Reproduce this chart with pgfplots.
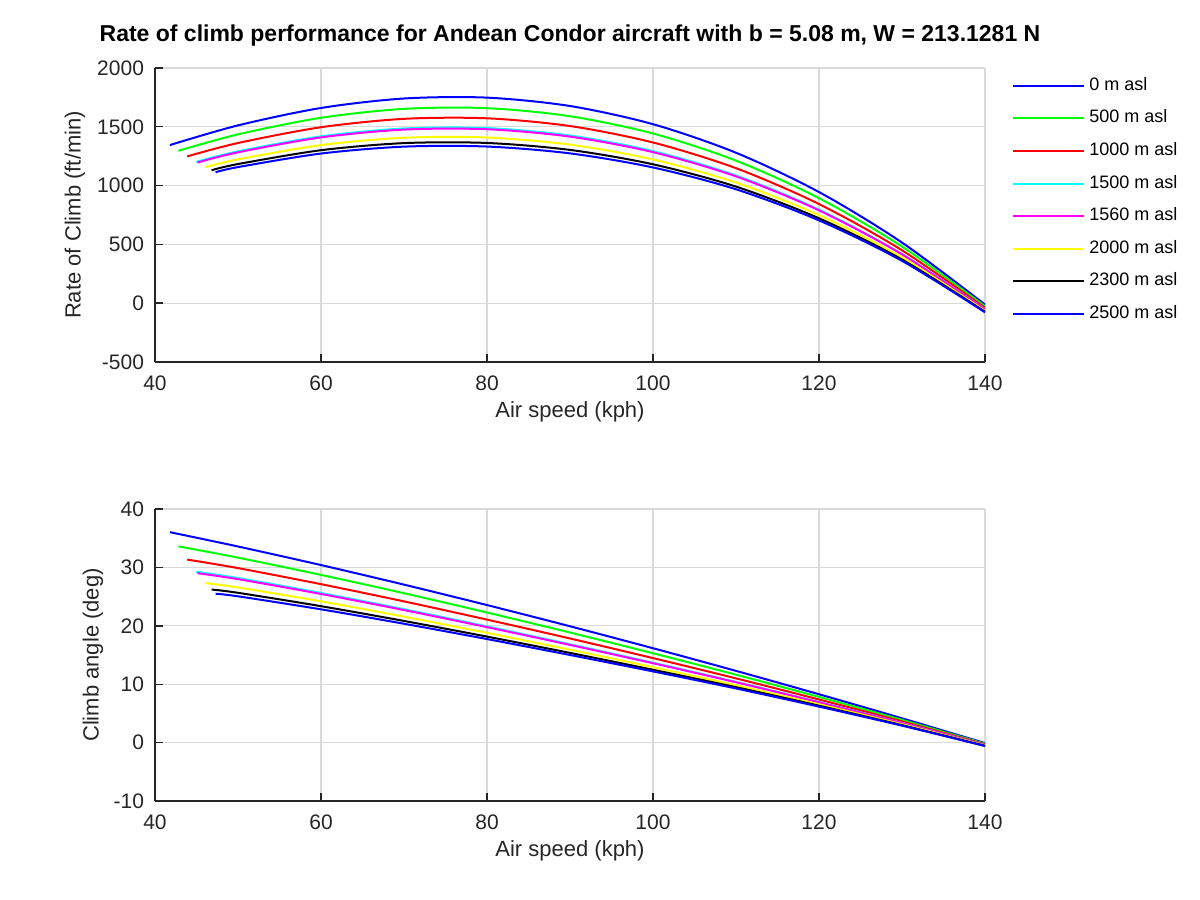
\documentclass[border=0pt]{standalone}
\usepackage{fontspec}
\setmainfont{Liberation Sans}
\usepackage{pgfplots}
\pgfplotsset{compat=1.18}
\definecolor{gridc}{RGB}{217,217,217}
\definecolor{axc}{RGB}{38,38,38}
\definecolor{cblue}{RGB}{0,0,255}
\definecolor{cgreen}{RGB}{0,255,0}
\definecolor{cred}{RGB}{255,0,0}
\definecolor{ccyan}{RGB}{0,255,255}
\definecolor{cmag}{RGB}{255,0,255}
\definecolor{cyel}{RGB}{255,255,0}
\pgfplotsset{
  myax/.style={
    scale only axis, width=415bp,
    xmin=40, xmax=140, xtick={40,60,...,140},
    xticklabels={40,60,80,100,120,140},
    axis lines*=left, tick align=inside, major tick length=4bp,
    grid=major, major grid style={gridc, line width=0.6bp},
    axis line style={axc, line width=0.7bp},
    tick style={axc, line width=0.7bp},
    ticklabel style={font=\fontsize{10.5bp}{12bp}\selectfont, text=axc},
    xticklabel style={yshift=-3.5bp},
    yticklabel style={xshift=-2bp},
    label style={font=\fontsize{11bp}{13bp}\selectfont, text=axc},
    every axis plot/.append style={line width=1bp, smooth, no markers},
  }
}
\begin{document}
\begin{tikzpicture}
\path[use as bounding box] (0,0) rectangle (600bp,450bp);
\node[font=\bfseries\fontsize{11.5bp}{13bp}\selectfont, text=black] at (285bp,432bp)
  {Rate of climb performance for Andean Condor aircraft with b = 5.08 m, W = 213.1281 N};
\begin{axis}[myax,
  at={(77.5bp,269bp)}, anchor=south west, height=147bp,
  ymin=-500, ymax=2000, ytick={-500,0,500,1000,1500,2000},
  yticklabels={-500,0,500,1000,1500,2000},
  xlabel={Air speed (kph)}, ylabel={Rate of Climb (ft/min)},
  xlabel style={at={(axis description cs:0.5,-0.17)}, anchor=center},
  ylabel style={at={(axis description cs:-0.0964,0.5)}, anchor=center},
  legend style={at={(axis description cs:1.0325,1)}, anchor=north west,
    yshift=-2bp, draw=none, fill=none, inner sep=0pt,
    font=\fontsize{9bp}{11bp}\selectfont, row sep=2.8bp,
    nodes={text height=7bp, text depth=2.5bp}},
  legend cell align=left,
  legend image code/.code={\draw[#1, line width=1bp] (0bp,0bp) -- (35.5bp,0bp);},
]
\addplot[cblue] coordinates {(41.8,1344.7)(50,1512.0)(60,1660.0)(70,1740.6)(80,1748.0)(90,1676.7)(100,1522.0)(110,1279.4)(120,945.0)(130,515.5)(140,-12.0)};
\addlegendentry{0 m asl}
\addplot[cgreen] coordinates {(42.82,1295.6)(50,1435.7)(60,1576.6)(70,1652.5)(80,1658.5)(90,1590.0)(100,1442.9)(110,1212.5)(120,893.2)(130,482.1)(140,-26.1)};
\addlegendentry{500 m asl}
\addplot[cred] coordinates {(43.88,1248.0)(50,1362.1)(60,1496.3)(70,1567.6)(80,1572.2)(90,1506.5)(100,1366.6)(110,1148.0)(120,843.2)(130,449.8)(140,-39.8)};
\addlegendentry{1000 m asl}
\addplot[ccyan] coordinates {(44.98,1201.7)(50,1291.2)(60,1418.7)(70,1485.7)(80,1489.0)(90,1425.9)(100,1293.0)(110,1085.9)(120,795.1)(130,418.7)(140,-52.9)};
\addlegendentry{1500 m asl}
\addplot[cmag] coordinates {(45.11,1196.1)(50,1282.9)(60,1409.7)(70,1476.2)(80,1479.3)(90,1416.5)(100,1284.4)(110,1078.6)(120,789.5)(130,415.1)(140,-54.4)};
\addlegendentry{1560 m asl}
\addplot[cyel] coordinates {(46.11,1156.5)(50,1223.0)(60,1344.2)(70,1407.0)(80,1409.0)(90,1348.4)(100,1222.3)(110,1026.1)(120,748.8)(130,388.8)(140,-65.5)};
\addlegendentry{2000 m asl}
\addplot[black] coordinates {(46.82,1130.6)(50,1183.3)(60,1300.9)(70,1361.2)(80,1362.5)(90,1303.4)(100,1181.1)(110,991.3)(120,721.8)(130,371.4)(140,-72.9)};
\addlegendentry{2300 m asl}
\addplot[cblue] coordinates {(47.30,1113.2)(50,1157.4)(60,1272.5)(70,1331.3)(80,1332.1)(90,1273.9)(100,1154.2)(110,968.6)(120,704.2)(130,360.1)(140,-77.7)};
\addlegendentry{2500 m asl}
\end{axis}
\begin{axis}[myax,
  at={(77.5bp,49.5bp)}, anchor=south west, height=146bp,
  ymin=-10, ymax=40, ytick={-10,0,...,40},
  yticklabels={-10,0,10,20,30,40},
  xlabel={Air speed (kph)}, ylabel={Climb angle (deg)},
  xlabel style={at={(axis description cs:0.5,-0.172)}, anchor=center},
  ylabel style={at={(axis description cs:-0.0747,0.5)}, anchor=center},
]
\addplot[cblue] coordinates {(41.8,36.03)(50,33.58)(60,30.40)(70,27.05)(80,23.55)(90,19.92)(100,16.16)(110,12.28)(120,8.28)(130,4.16)(140,-0.09)};
\addplot[cgreen] coordinates {(42.82,33.60)(50,31.67)(60,28.72)(70,25.58)(80,22.28)(90,18.85)(100,15.30)(110,11.63)(120,7.82)(130,3.89)(140,-0.20)};
\addplot[cred] coordinates {(43.88,31.34)(50,29.88)(60,27.13)(70,24.18)(80,21.06)(90,17.83)(100,14.47)(110,11.00)(120,7.38)(130,3.63)(140,-0.30)};
\addplot[ccyan] coordinates {(44.98,29.25)(50,28.18)(60,25.62)(70,22.84)(80,19.90)(90,16.84)(100,13.68)(110,10.40)(120,6.96)(130,3.38)(140,-0.40)};
\addplot[cmag] coordinates {(45.11,29.01)(50,27.99)(60,25.45)(70,22.69)(80,19.77)(90,16.73)(100,13.59)(110,10.33)(120,6.91)(130,3.35)(140,-0.41)};
\addplot[cyel] coordinates {(46.11,27.30)(50,26.57)(60,24.19)(70,21.57)(80,18.79)(90,15.90)(100,12.92)(110,9.82)(120,6.55)(130,3.14)(140,-0.49)};
\addplot[black] coordinates {(46.82,26.21)(50,25.65)(60,23.36)(70,20.83)(80,18.15)(90,15.36)(100,12.47)(110,9.49)(120,6.32)(130,2.99)(140,-0.55)};
\addplot[cblue] coordinates {(47.30,25.49)(50,25.05)(60,22.82)(70,20.35)(80,17.73)(90,15.00)(100,12.19)(110,9.27)(120,6.16)(130,2.90)(140,-0.58)};
\end{axis}
\end{tikzpicture}
\end{document}
